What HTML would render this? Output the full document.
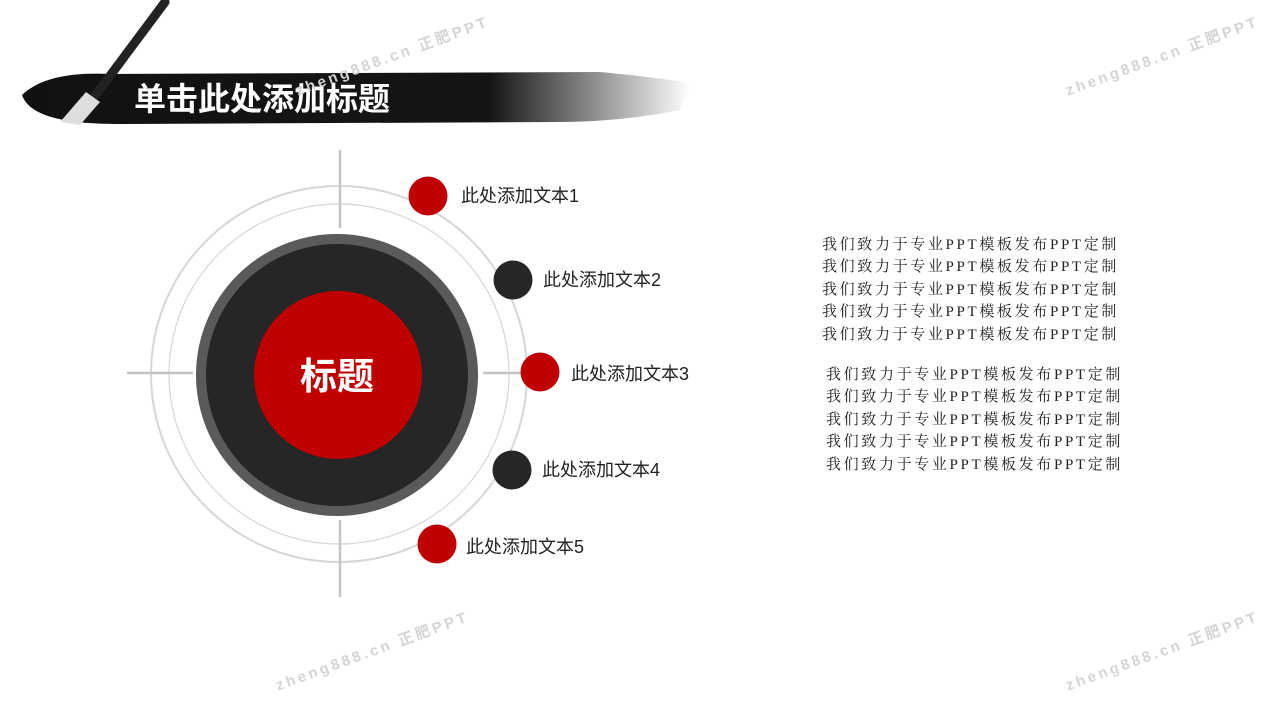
<!DOCTYPE html>
<html><head><meta charset="utf-8"><style>
body{margin:0;width:1280px;height:720px;background:#fff;position:relative;overflow:hidden;font-family:"Liberation Sans","Noto Sans CJK SC",sans-serif}
.t{position:absolute;font-size:18px;color:#222;line-height:20px}
.r{position:absolute;left:822px;font-family:"Liberation Serif","Noto Serif CJK SC",serif;font-size:15px;color:#222;line-height:22.4px;letter-spacing:2.65px;white-space:nowrap}
.wm{position:absolute;color:#d4d4d4;font-size:15px;font-weight:bold;letter-spacing:3px;transform:rotate(-20deg);white-space:nowrap}
</style></head><body>
<svg width="1280" height="720" style="position:absolute;left:0;top:0">
<defs><linearGradient id="g" x1="0" x2="1"><stop offset="0" stop-color="#111"/><stop offset="0.7" stop-color="#151515"/><stop offset="1" stop-color="#111" stop-opacity="0"/></linearGradient></defs>
<path d="M22,95 C40,78 70,72 110,74 L600,72 C640,76 680,80 690,84 L680,110 C640,118 600,122 560,122 L120,124 C70,124 30,118 22,95Z" fill="url(#g)"/>
<line x1="165" y1="2" x2="92" y2="100" stroke="#222" stroke-width="9" stroke-linecap="round"/>
<path d="M86,92 L100,102 L80,125 L60,122Z" fill="#ddd"/>
<g fill="none" stroke="#d6d6d6">
<circle cx="339" cy="374" r="188" stroke-width="2"/>
<circle cx="339" cy="374" r="170" stroke-width="1.2"/>
</g>
<g stroke="#c4c4c4" stroke-width="2.5">
<line x1="340" y1="150" x2="340" y2="228"/><line x1="340" y1="520" x2="340" y2="597"/>
<line x1="127" y1="373" x2="193" y2="373"/><line x1="483" y1="373" x2="522" y2="373"/>
</g>
<circle cx="337" cy="375" r="141" fill="#5a5a5a"/>
<circle cx="337" cy="375" r="131" fill="#262626"/>
<circle cx="338" cy="375" r="84" fill="#c00000"/>
<circle cx="428" cy="196" r="19.5" fill="#c00000"/>
<circle cx="513" cy="280" r="19.5" fill="#262626"/>
<circle cx="540" cy="372" r="19.5" fill="#c00000"/>
<circle cx="512" cy="470" r="19.5" fill="#262626"/>
<circle cx="437" cy="544" r="19.5" fill="#c00000"/>
</svg>
<div style="position:absolute;left:134px;top:80px;color:#fff;font-size:32px;font-weight:bold;line-height:38px">单击此处添加标题</div>
<div style="position:absolute;left:300px;top:356px;color:#fff;font-size:37px;font-weight:bold;line-height:42px">标题</div>
<div class="t" style="left:461px;top:186px">此处添加文本1</div>
<div class="t" style="left:543px;top:270px">此处添加文本2</div>
<div class="t" style="left:571px;top:364px">此处添加文本3</div>
<div class="t" style="left:542px;top:460px">此处添加文本4</div>
<div class="t" style="left:466px;top:537px">此处添加文本5</div>
<div class="r" style="top:234px">我们致力于专业PPT模板发布PPT定制<br>我们致力于专业PPT模板发布PPT定制<br>我们致力于专业PPT模板发布PPT定制<br>我们致力于专业PPT模板发布PPT定制<br>我们致力于专业PPT模板发布PPT定制</div>
<div class="r" style="top:364px;left:826px">我们致力于专业PPT模板发布PPT定制<br>我们致力于专业PPT模板发布PPT定制<br>我们致力于专业PPT模板发布PPT定制<br>我们致力于专业PPT模板发布PPT定制<br>我们致力于专业PPT模板发布PPT定制</div>
<div class="wm" style="left:290px;top:45px">zheng888.cn 正肥PPT</div>
<div class="wm" style="left:1060px;top:45px">zheng888.cn 正肥PPT</div>
<div class="wm" style="left:270px;top:640px">zheng888.cn 正肥PPT</div>
<div class="wm" style="left:1060px;top:640px">zheng888.cn 正肥PPT</div>
</body></html>
